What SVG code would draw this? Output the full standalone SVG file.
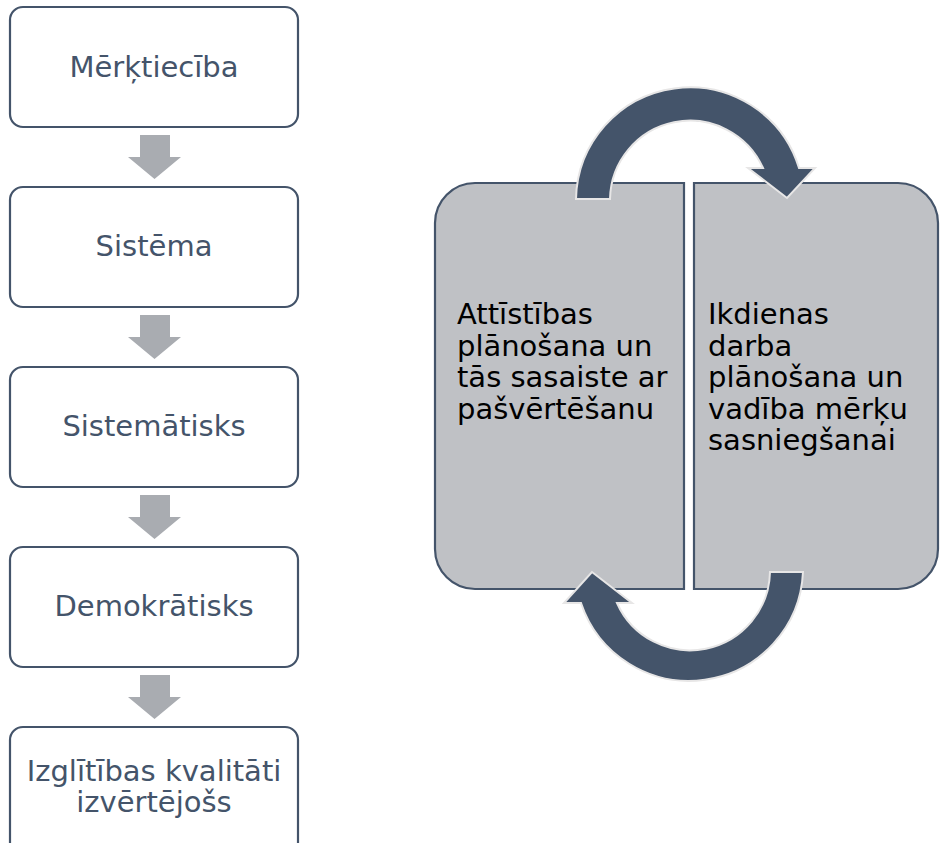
<svg xmlns="http://www.w3.org/2000/svg" width="940" height="843" viewBox="0 0 940 843">
<defs>
<style>
.box{fill:#ffffff;stroke:#44546a;stroke-width:2.2}
.lt{font-family:"DejaVu Sans",Verdana,sans-serif;font-size:29px;fill:#44546a;text-anchor:middle}
.dn{fill:#a9acb1}
.part{fill:#bfc1c5;stroke:#44546a;stroke-width:2.2}
.rt{font-family:"DejaVu Sans",Verdana,sans-serif;font-size:29px;fill:#000000}
.circ{fill:#44546a;stroke:#e7e6e6;stroke-width:2}
</style>
<path id="downArrow" d="M140,0 H170 V22 H181 L154.5,44 L128,22 H140 Z"/>
</defs>
<rect width="940" height="843" fill="#ffffff"/>
<g id="n1"><rect class="box" x="10" y="7" width="288" height="120" rx="13"/><text class="lt" x="154" y="77">Mērķtiecība</text></g>
<g id="n2"><rect class="box" x="10" y="187" width="288" height="120" rx="13"/><text class="lt" x="154" y="256">Sistēma</text></g>
<g id="n3"><rect class="box" x="10" y="367" width="288" height="120" rx="13"/><text class="lt" x="154" y="436">Sistemātisks</text></g>
<g id="n4"><rect class="box" x="10" y="547" width="288" height="120" rx="13"/><text class="lt" x="154" y="616">Demokrātisks</text></g>
<g id="n5"><rect class="box" x="10" y="727" width="288" height="130" rx="13"/><text class="lt" x="154" y="781">Izglītības kvalitāti</text><text class="lt" x="154" y="812">izvērtējošs</text></g>
<g id="nL"><path class="part" d="M684,183 H475 A40,40 0 0 0 435,223 V549 A40,40 0 0 0 475,589 H684 Z"/>
<text class="rt" x="457"><tspan x="457" y="324">Attīstības</tspan><tspan x="457" y="355.5">plānošana un</tspan><tspan x="457" y="387">tās sasaiste ar</tspan><tspan x="457" y="418.5">pašvērtēšanu</tspan></text></g>
<g id="nR"><path class="part" d="M694,183 H898 A40,40 0 0 1 938,223 V549 A40,40 0 0 1 898,589 H694 Z"/>
<text class="rt" x="708"><tspan x="708" y="324">Ikdienas</tspan><tspan x="708" y="355.5">darba</tspan><tspan x="708" y="387">plānošana un</tspan><tspan x="708" y="418.5">vadība mērķu</tspan><tspan x="708" y="450">sasniegšanai</tspan></text></g>
<g id="connectors">
<use href="#downArrow" class="dn" y="135"/>
<use href="#downArrow" class="dn" y="315"/>
<use href="#downArrow" class="dn" y="495"/>
<use href="#downArrow" class="dn" y="675"/>
<path class="circ" d="M576,199 A114,114 0 0 1 799,168 L815,168 L787,198 L748,168 L763,168 A80,80 0 0 0 610,199 Z"/>
<path class="circ" d="M803,572 A114,114 0 0 1 581,603 L564,603 L592,572 L632,603 L617,603 A80,80 0 0 0 770,572 Z"/>
</g>
</svg>
